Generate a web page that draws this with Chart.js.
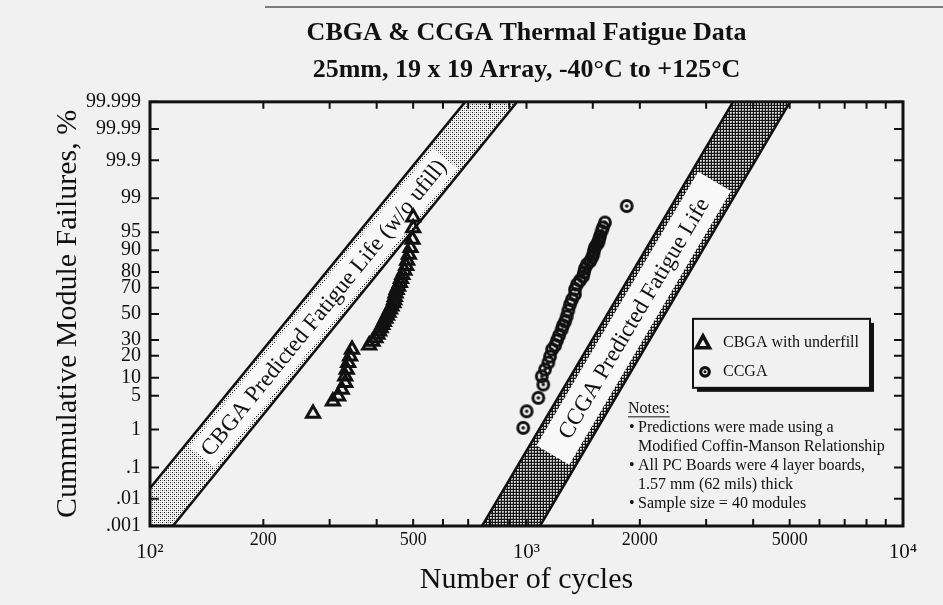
<!DOCTYPE html>
<html><head><meta charset="utf-8">
<script src="https://cdn.jsdelivr.net/npm/chart.js@4.4.1/dist/chart.umd.min.js"></script>
<style>html,body{margin:0;padding:0;background:#f1f1f1;}canvas{display:block;}</style>
</head><body>
<canvas id="c" width="943" height="605"></canvas>
<script>
// ---------- DATA ----------
const cbgaCycles = [271,306,316,323,330,330,333,336,340,344,382,390,397,402,406,410,414,418,422,426,430,434,438,443,445,447,449,452,456,461,464,468,474,479,482,487,492,498,500,500];
const cbgaPct    = [2.25,3.95,4.9,6.4,8.3,10.5,13.2,16.3,19.8,23.7,26.5,29.0,31.4,33.9,36.4,38.9,41.3,43.8,46.3,48.8,51.2,53.7,56.2,58.7,61.1,63.6,66.1,68.6,71.0,73.5,76.0,78.5,80.9,83.4,85.9,88.4,90.8,93.3,95.8,97.4];
const ccgaCycles = [980,1001,1075,1108,1098,1120,1143,1155,1169,1191,1205,1220,1240,1250,1266,1279,1291,1305,1321,1345,1345,1362,1387,1413,1421,1430,1448,1475,1493,1505,1511,1520,1539,1551,1558,1567,1583,1596,1616,1846];
const ccgaPct    = [1.10,2.51,4.57,7.78,10.5,13.2,16.4,19.6,23.7,26.3,29.7,33.2,37.7,40.8,44.0,48.0,52.8,57.6,61.5,65.3,68.9,72.4,75.0,77.5,79.8,82.0,84.1,85.5,87.2,88.5,89.9,91.0,91.9,92.5,93.3,94.1,95.2,95.9,96.7,98.5];

// predicted-life bands: cycles where each edge line meets 0.001 % and 99.999 %
const bandPct = [0.001, 99.999];
const cbgaBandLeft  = [82.8, 687];
const cbgaBandRight = [115, 944];
const ccgaBandLeft  = [762, 3536];
const ccgaBandRight = [1086, 5012];

const yTickPct    = [0.001, 0.01, 0.1, 1, 5, 10, 20, 30, 50, 70, 80, 90, 95, 99, 99.9, 99.99, 99.999];
const yTickLabels = ['.001','.01','.1','1','5','10','20','30','50','70','80','90','95','99','99.9','99.99','99.999'];
const xTickValues = [100, 200, 500, 1000, 2000, 5000, 10000];
const xTickLabels = ['10\u00B2','200','500','10\u00B3','2000','5000','10\u2074'];

const titleLines = ['CBGA & CCGA Thermal Fatigue Data', '25mm, 19 x 19 Array, -40\u00B0C to +125\u00B0C'];
const notesLines = ['Predictions were made using a', 'Modified Coffin-Manson Relationship', 'All PC Boards were 4 layer boards,', '1.57 mm (62 mils) thick', 'Sample size = 40 modules'];

// ---------- helpers ----------
const SERIF = "'Liberation Serif','Times New Roman',serif";
const INK = '#111';
const BG = '#f1f1f1';
function probit(p){
  const a=[-3.969683028665376e+01,2.209460984245205e+02,-2.759285104469687e+02,1.383577518672690e+02,-3.066479806614716e+01,2.506628277459239e+00];
  const b=[-5.447609879822406e+01,1.615858368580409e+02,-1.556989798598866e+02,6.680131188771972e+01,-1.328068155288572e+01];
  const c=[-7.784894002430293e-03,-3.223964580411365e-01,-2.400758277161838e+00,-2.549732539343734e+00,4.374664141464968e+00,2.938163982698783e+00];
  const d=[7.784695709041462e-03,3.224671290700398e-01,2.445134137142996e+00,3.754408661907416e+00];
  const pl=0.02425;
  if(p<pl){const q=Math.sqrt(-2*Math.log(p));return (((((c[0]*q+c[1])*q+c[2])*q+c[3])*q+c[4])*q+c[5])/((((d[0]*q+d[1])*q+d[2])*q+d[3])*q+1);}
  if(p<=1-pl){const q=p-0.5,r=q*q;return (((((a[0]*r+a[1])*r+a[2])*r+a[3])*r+a[4])*r+a[5])*q/(((((b[0]*r+b[1])*r+b[2])*r+b[3])*r+b[4])*r+1);}
  const q=Math.sqrt(-2*Math.log(1-p));return -(((((c[0]*q+c[1])*q+c[2])*q+c[3])*q+c[4])*q+c[5])/((((d[0]*q+d[1])*q+d[2])*q+d[3])*q+1);
}
const z = pct => probit(pct/100);
const Z_MIN = z(bandPct[0]), Z_MAX = z(bandPct[1]);

function makePattern(size, draw){
  const cv=document.createElement('canvas'); cv.width=size; cv.height=size;
  const g=cv.getContext('2d'); draw(g);
  return document.getElementById('c').getContext('2d').createPattern(cv,'repeat');
}
const lightStipple = makePattern(4, g=>{
  g.fillStyle='#f6f6f6'; g.fillRect(0,0,4,4);
  g.fillStyle='#111'; g.fillRect(0,0,1,1); g.fillRect(2,2,1,1);
  g.fillStyle='#999'; g.fillRect(0,2,1,1); g.fillRect(2,0,1,1);
});
const darkStipple = makePattern(3, g=>{
  g.fillStyle='#151515'; g.fillRect(0,0,3,3);
  g.fillStyle='#e8e8e8'; g.fillRect(1,1,1,1);
  g.fillStyle='#bbb'; g.fillRect(2,1,1,1); g.fillRect(1,2,1,1);
  g.fillStyle='#888'; g.fillRect(2,2,1,1);
});
const circleMarker = (()=>{
  const cv=document.createElement('canvas'); cv.width=18; cv.height=18;
  const g=cv.getContext('2d');
  g.strokeStyle=INK; g.lineWidth=3; g.beginPath(); g.arc(9,9,5.4,0,Math.PI*2); g.stroke();
  g.fillStyle=INK; g.beginPath(); g.arc(9,9,1.8,0,Math.PI*2); g.fill();
  return cv;
})();

function bandPolygon(left, right){
  return [{x:left[0],y:Z_MIN},{x:left[1],y:Z_MAX},{x:right[1],y:Z_MAX},{x:right[0],y:Z_MIN},{x:left[0],y:Z_MIN}];
}

const bandLabels = {
  0: {left:cbgaBandLeft, right:cbgaBandRight, pct:55, len:385, width:32, text:'CBGA Predicted Fatigue Life (w/o ufill)'},
  1: {left:ccgaBandLeft, right:ccgaBandRight, pct:46.5, len:318, width:38, text:'CCGA Predicted Fatigue Life'}
};

const decor = {
  id:'decor',
  beforeDraw(chart){
    const {ctx,width,height}=chart;
    ctx.save(); ctx.fillStyle=BG; ctx.fillRect(0,0,width,height);
    ctx.strokeStyle='#555'; ctx.lineWidth=1.5; ctx.beginPath(); ctx.moveTo(265,7); ctx.lineTo(943,7); ctx.stroke();
    ctx.restore();
  },
  afterDatasetDraw(chart,args){
    const cfg = bandLabels[args.index]; if(!cfg) return;
    const xs=chart.scales.x, ys=chart.scales.y, ctx=chart.ctx;
    const L0={x:xs.getPixelForValue(cfg.left[0]),y:ys.getPixelForValue(Z_MIN)};
    const L1={x:xs.getPixelForValue(cfg.left[1]),y:ys.getPixelForValue(Z_MAX)};
    const R0={x:xs.getPixelForValue(cfg.right[0]),y:ys.getPixelForValue(Z_MIN)};
    const R1={x:xs.getPixelForValue(cfg.right[1]),y:ys.getPixelForValue(Z_MAX)};
    const C0={x:(L0.x+R0.x)/2,y:(L0.y+R0.y)/2}, C1={x:(L1.x+R1.x)/2,y:(L1.y+R1.y)/2};
    const yc=ys.getPixelForValue(z(cfg.pct));
    const t=(yc-C0.y)/(C1.y-C0.y);
    const P={x:C0.x+t*(C1.x-C0.x), y:yc};
    const ang=Math.atan2(C1.y-C0.y, C1.x-C0.x);
    ctx.save();
    ctx.beginPath(); ctx.rect(chart.chartArea.left,chart.chartArea.top,chart.chartArea.width,chart.chartArea.height); ctx.clip();
    ctx.translate(P.x,P.y); ctx.rotate(ang);
    ctx.fillStyle='#f8f8f8'; ctx.fillRect(-cfg.len/2,-cfg.width/2,cfg.len,cfg.width);
    ctx.fillStyle=INK; ctx.font='23px '+SERIF; ctx.textAlign='center'; ctx.textBaseline='middle';
    ctx.fillText(cfg.text,0,1);
    ctx.restore();
  },
  afterDraw(chart){
    const {ctx,chartArea:a}=chart; const xs=chart.scales.x, ys=chart.scales.y;
    ctx.save();
    ctx.strokeStyle=INK; ctx.lineWidth=2;
    xs.ticks.forEach(tk=>{const px=xs.getPixelForValue(tk.value);
      ctx.beginPath(); ctx.moveTo(px,a.bottom); ctx.lineTo(px,a.bottom-7); ctx.moveTo(px,a.top); ctx.lineTo(px,a.top+7); ctx.stroke();});
    ys.ticks.forEach(tk=>{const py=ys.getPixelForValue(tk.value);
      ctx.beginPath(); ctx.moveTo(a.left,py); ctx.lineTo(a.left+9,py); ctx.moveTo(a.right,py); ctx.lineTo(a.right-9,py); ctx.stroke();});
    ctx.lineWidth=3; ctx.strokeRect(a.left,a.top,a.width,a.height);
    // legend box
    const lx=a.right-210, ly=a.top+217, lw=177, lh=69;
    ctx.fillStyle=INK; ctx.fillRect(lx+4,ly+4,lw,lh);
    ctx.fillStyle=BG; ctx.fillRect(lx,ly,lw,lh);
    ctx.lineWidth=2; ctx.strokeStyle=INK; ctx.strokeRect(lx,ly,lw,lh);
    ctx.lineWidth=3.5; ctx.lineJoin='miter';
    ctx.beginPath(); ctx.moveTo(lx+10,ly+17); ctx.lineTo(lx+3.5,ly+29); ctx.lineTo(lx+16.5,ly+29); ctx.closePath(); ctx.stroke();
    ctx.lineWidth=3.2; ctx.beginPath(); ctx.arc(lx+12,ly+53,4.3,0,Math.PI*2); ctx.stroke();
    ctx.fillStyle=INK; ctx.beginPath(); ctx.arc(lx+12,ly+53,1.5,0,Math.PI*2); ctx.fill();
    ctx.font='16px '+SERIF; ctx.textAlign='left'; ctx.textBaseline='middle';
    ctx.fillText(chart.data.datasets[2].label, lx+30, ly+24);
    ctx.fillText(chart.data.datasets[3].label, lx+30, ly+53);
    // notes
    const nx=a.right-275, ny=a.top+307;
    ctx.fillText('Notes:', nx, ny);
    const w=ctx.measureText('Notes:').width;
    ctx.lineWidth=1; ctx.beginPath(); ctx.moveTo(nx,ny+8); ctx.lineTo(nx+w,ny+8); ctx.stroke();
    const bullets=[true,false,true,false,true];
    notesLines.forEach((s,i)=>{
      const yy=ny+19+i*19;
      if(bullets[i]) ctx.fillText('\u2022', nx+1, yy);
      ctx.fillText(s, nx+10, yy);
    });
    ctx.restore();
  }
};

new Chart(document.getElementById('c'), {
  type:'scatter',
  data:{datasets:[
    {type:'line', label:'CBGA band', data:bandPolygon(cbgaBandLeft,cbgaBandRight), fill:'shape', backgroundColor:lightStipple, borderColor:INK, borderWidth:2.5, pointRadius:0, tension:0, order:2},
    {type:'line', label:'CCGA band', data:bandPolygon(ccgaBandLeft,ccgaBandRight), fill:'shape', backgroundColor:darkStipple, borderColor:INK, borderWidth:2.5, pointRadius:0, tension:0, order:2},
    {label:'CBGA with underfill', data:cbgaCycles.map((c,i)=>({x:c,y:z(cbgaPct[i])})), pointStyle:'triangle', pointRadius:7.5, borderWidth:3, borderColor:INK, backgroundColor:'rgba(0,0,0,0)', order:0},
    {label:'CCGA', data:ccgaCycles.map((c,i)=>({x:c,y:z(ccgaPct[i])})), pointStyle:circleMarker, pointRadius:7, order:0}
  ]},
  options:{
    responsive:false, animation:false, events:[],
    layout:{padding:{left:0,right:40,top:0,bottom:0}},
    plugins:{
      legend:{display:false}, tooltip:{enabled:false},
      title:{display:true, text:titleLines, fullSize:false, color:INK, font:{family:SERIF,size:26,weight:'bold',lineHeight:1.42}, padding:{top:14.5,bottom:13.5}}
    },
    scales:{
      x:{type:'logarithmic', min:100, max:10000,
        afterFit(s){s.height=79;},
        grid:{display:false, drawTicks:false}, border:{display:false},
        ticks:{autoSkip:false, maxRotation:0, minRotation:0, padding:3, color:INK,
          font:(ctx)=>{const v=ctx.tick?ctx.tick.value:0; const big=[100,1000,10000].some(t=>Math.abs(v-t)/t<1e-6);
            return big?{family:SERIF,size:21,lineHeight:2.2}:{family:SERIF,size:18,lineHeight:1.2};},
          callback:(v)=>{const i=xTickValues.findIndex(t=>Math.abs(v-t)/t<1e-6); return i>=0?xTickLabels[i]:'';}},
        title:{display:true, text:'Number of cycles', color:INK, font:{family:SERIF,size:30}, padding:{top:0,bottom:7}}
      },
      y:{type:'linear', min:Z_MIN, max:Z_MAX,
        afterFit(s){s.width=150;},
        afterBuildTicks(s){s.ticks=yTickPct.map(p=>({value:z(p)}));},
        grid:{display:false, drawTicks:false}, border:{display:false},
        ticks:{autoSkip:false, padding:9, color:INK, font:{family:SERIF,size:20},
          callback:(v,i)=>yTickLabels[i]},
        title:{display:true, text:'Cummulative Module Failures, %', color:INK, font:{family:SERIF,size:30}, padding:{top:50,bottom:0}}
      }
    }
  },
  plugins:[decor]
});
</script>
</body></html>
